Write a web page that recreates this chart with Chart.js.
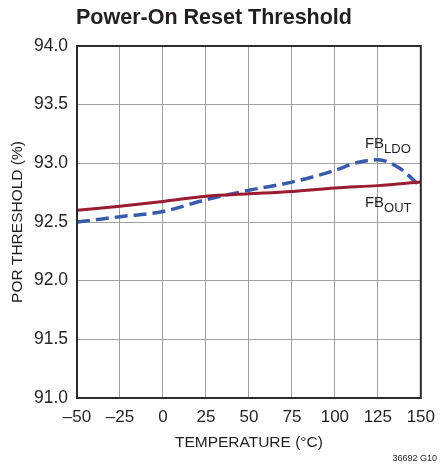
<!DOCTYPE html>
<html>
<head>
<meta charset="utf-8">
<script src="https://cdn.jsdelivr.net/npm/chart.js@4.4.1/dist/chart.umd.min.js"></script>
<style>
    html, body { margin: 0; padding: 0; background: #fff; }
    #wrap { width: 444px; height: 466px; position: relative; }
</style>
</head>
<body>
<div id="wrap"><canvas id="por_chart" width="444" height="466"></canvas></div>
<script>
// temperatures (C) and POR threshold (%)
var tempOut = [-50, -25, 0, 25, 50, 75, 100, 125, 150];
var fbOut = [92.60, 92.635, 92.675, 92.72, 92.74, 92.76, 92.79, 92.81, 92.84];

var tempLdo = [-50, -25, 0, 25, 50, 75, 100, 112.5, 125, 137.5, 150];
var fbLdo = [92.50, 92.545, 92.59, 92.69, 92.77, 92.84, 92.94, 93.005, 93.03, 92.96, 92.80];

var xTicks = [-50, -25, 0, 25, 50, 75, 100, 125, 150];
var yTicks = [91.0, 91.5, 92.0, 92.5, 93.0, 93.5, 94.0];

var FONT = "'Liberation Sans', Arial, sans-serif";

function toPoints(xs, ys) {
    var pts = [];
    for (var i = 0; i < xs.length; i++) {
        pts.push({x: xs[i], y: ys[i]});
    }
    return pts;
}

// black frame, line labels and the figure number
var extras = {
    id: 'extras',
    afterDatasetsDraw: function (chart) {
        var ctx = chart.ctx;
        var a = chart.chartArea;
        var xs = chart.scales.x, ys = chart.scales.y;
        ctx.save();
        ctx.strokeStyle = '#2b2b2b';
        ctx.lineWidth = 2;
        ctx.strokeRect(a.left, a.top, a.right - a.left, a.bottom - a.top);

        ctx.fillStyle = '#231f20';
        ctx.textBaseline = 'alphabetic';
        ctx.textAlign = 'left';
        drawSub(ctx, 'FB', 'LDO', xs.getPixelForValue(117.5), ys.getPixelForValue(93.13));
        drawSub(ctx, 'FB', 'OUT', xs.getPixelForValue(117.5), ys.getPixelForValue(92.63));

        ctx.font = '9px ' + FONT;
        ctx.textAlign = 'right';
        ctx.fillText('36692 G10', 437, 461);
        ctx.restore();
    }
};

function drawSub(ctx, main, sub, x, y) {
    ctx.font = '15px ' + FONT;
    ctx.fillText(main, x, y);
    var w = ctx.measureText(main).width;
    ctx.font = '13px ' + FONT;
    ctx.fillText(sub, x + w, y + 5);
}

new Chart(document.getElementById("por_chart").getContext("2d"), {
    type: 'line',
    data: {
        datasets: [{
            label: 'FBOUT',
            data: toPoints(tempOut, fbOut),
            borderColor: '#9b1b30',
            borderWidth: 3,
            pointRadius: 0,
            cubicInterpolationMode: 'monotone',
            fill: false
        }, {
            label: 'FBLDO',
            data: toPoints(tempLdo, fbLdo),
            borderColor: '#3a5ba9',
            borderWidth: 3.5,
            borderDash: [13, 6],
            pointRadius: 0,
            cubicInterpolationMode: 'monotone',
            fill: false
        }]
    },
    options: {
        responsive: false,
        animation: false,
        layout: { padding: { left: 0, right: 16, top: 0, bottom: 0 } },
        plugins: {
            legend: { display: false },
            tooltip: { enabled: false },
            title: {
                display: true,
                text: 'Power-On Reset Threshold',
                color: '#231f20',
                font: { family: FONT, size: 21.5, weight: 'bold', lineHeight: 1.2 },
                padding: { top: 5, bottom: 15.2 }
            }
        },
        scales: {
            x: {
                type: 'linear',
                min: -50,
                max: 150,
                afterBuildTicks: function (scale) {
                    scale.ticks = xTicks.map(function (v) { return {value: v}; });
                },
                afterFit: function (scale) { scale.height = 68; },
                grid: { color: '#a0a0a0', lineWidth: 1, drawTicks: false },
                border: { display: false },
                ticks: {
                    color: '#231f20',
                    padding: 9,
                    maxRotation: 0,
                    font: { family: FONT, size: 17 },
                    callback: function (v) { return v < 0 ? '\u2013' + Math.abs(v) : '' + v; }
                },
                title: {
                    display: true,
                    text: 'TEMPERATURE (\u00B0C)',
                    color: '#231f20',
                    font: { family: FONT, size: 15.5 },
                    padding: { top: 0, bottom: 14 }
                }
            },
            y: {
                min: 91,
                max: 94,
                afterBuildTicks: function (scale) {
                    scale.ticks = yTicks.map(function (v) { return {value: v}; });
                },
                afterFit: function (scale) { scale.width = 77; },
                grid: { color: '#a0a0a0', lineWidth: 1, drawTicks: false },
                border: { display: false },
                ticks: {
                    color: '#231f20',
                    padding: 9,
                    font: { family: FONT, size: 17.5 },
                    callback: function (v) { return v.toFixed(1); }
                },
                title: {
                    display: true,
                    text: 'POR THRESHOLD (%)',
                    color: '#231f20',
                    font: { family: FONT, size: 15.5 },
                    padding: { top: 8, bottom: 0 }
                }
            }
        }
    },
    plugins: [extras]
});
</script>
</body>
</html>
